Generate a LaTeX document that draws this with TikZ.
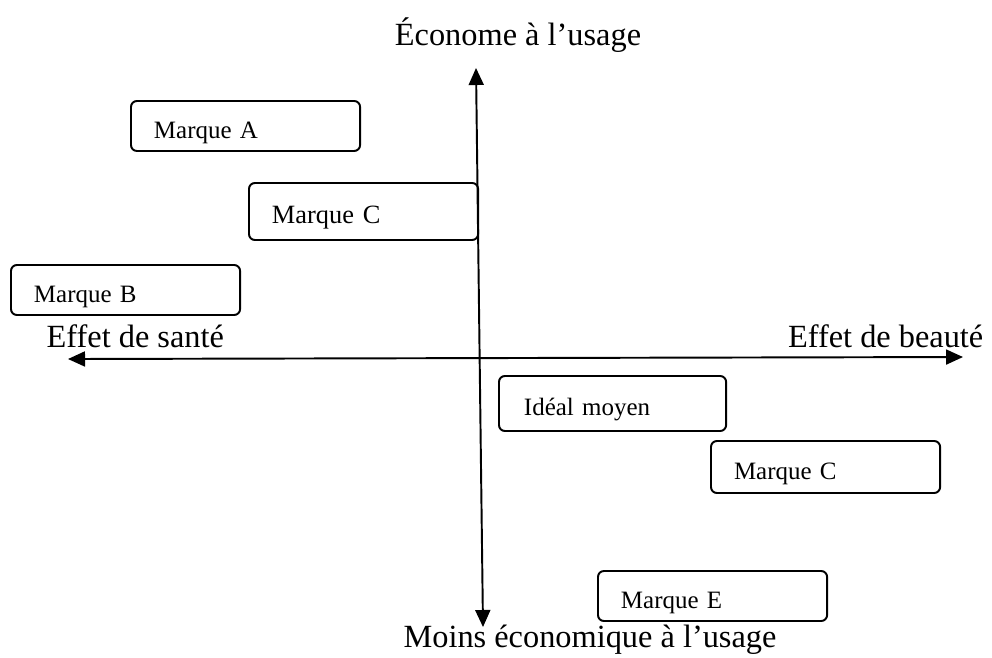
\documentclass[tikz,border=0pt]{standalone}
\usepackage{fontspec}
\setmainfont{Liberation Serif}
\usetikzlibrary{arrows.meta}
\begin{document}
\begin{tikzpicture}[x=0.01cm,y=-0.01cm,
  brand/.style={draw, line width=0.55pt, rounded corners=0.06cm,
    text width=1.83cm, inner xsep=0.23cm, align=left, anchor=north west,
    text height=0.24cm, text depth=0pt,
    font=\fontsize{7.1}{8}\selectfont},
  axis/.style={line width=0.55pt, {Triangle[length=0.17cm,width=0.15cm]}-{Triangle[length=0.17cm,width=0.15cm]}},
  axislabel/.style={font=\fontsize{9.2}{11}\selectfont, inner sep=0pt}]
\useasboundingbox (0,0) rectangle (992,657);

% axes
\coordinate (ytop) at (476,68);
\coordinate (ybot) at (483,627);
\coordinate (xleft) at (68,359);
\coordinate (xright) at (963,357);
\draw[axis] (ybot) -- (ytop);
\draw[axis] (xleft) -- (xright);

% axis labels
\node[axislabel, anchor=base] (lbltop) at (518,45) {Économe à l’usage};
\node[axislabel, anchor=base west] (lblleft) at (46,347) {Effet de santé};
\node[axislabel, anchor=base east] (lblright) at (984,347) {Effet de beauté};
\node[axislabel, anchor=base] (lblbot) at (590,647) {Moins économique à l’usage};

% brands
\node[brand, minimum height=0.50cm] (ma) at (130,100) {Marque A};
\node[brand, minimum height=0.57cm, font=\fontsize{7.5}{8}\selectfont] (mc1) at (248,182) {Marque C};
\node[brand, minimum height=0.50cm] (mb) at (10,264) {Marque B};
\node[brand, minimum height=0.55cm, inner xsep=0.25cm, text width=1.77cm] (ideal) at (498,375) {Idéal moyen};
\node[brand, minimum height=0.52cm] (mc2) at (710,440) {Marque C};
\node[brand, minimum height=0.50cm] (me) at (597,570) {Marque E};
\end{tikzpicture}
\end{document}
